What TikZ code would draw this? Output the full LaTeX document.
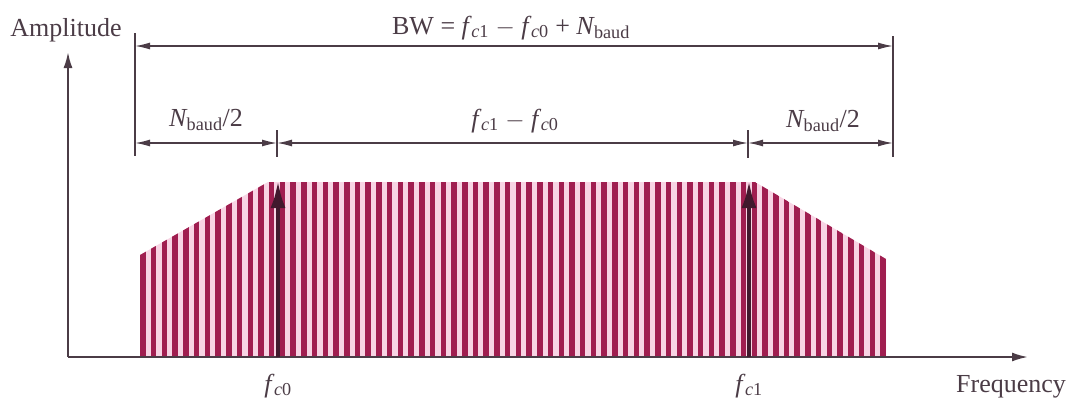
\documentclass[tikz,border=0pt]{standalone}
\usepackage{fontspec}
\setmainfont{Liberation Serif}
\usepackage{tikz}
\usetikzlibrary{arrows.meta}
\definecolor{inkgray}{RGB}{75,60,70}
\definecolor{barred}{RGB}{160,30,80}
\definecolor{barpink}{RGB}{248,212,228}
\definecolor{carrier}{RGB}{65,25,45}
\newcommand{\fc}[1]{\textit{f}\kern-0.5pt\textsubscript{\textit{c}#1}}
\newcommand{\Nb}{\textit{N}\kern-1pt\textsubscript{baud}}

\begin{document}
\begin{tikzpicture}[
  x=1pt, y=-1pt,
  every node/.style={font=\fontsize{26}{30}\selectfont, text=inkgray, inner sep=0pt},
  axis/.style={draw=inkgray, line width=2pt, -{Latex[length=16pt,width=9pt]}},
  dimline/.style={draw=inkgray, line width=1.4pt, {Latex[length=15pt,width=7pt]}-{Latex[length=15pt,width=7pt]}},
  extline/.style={draw=inkgray, line width=1.4pt},
  carrierarrow/.style={draw=carrier, line width=4.5pt, -{Latex[length=28pt,width=15pt]}},
  bar/.style={draw=barred, line width=5.5pt}
]
\useasboundingbox (0,0) rectangle (1083,399);

% spectrum bars
\begin{scope}
  \clip (140,357) -- (140,255) -- (268,182) -- (755,182) -- (886,259) -- (886,357) -- cycle;
  \fill[barpink] (130,150) rectangle (900,360);
  \foreach \i in {0,...,69}
    \draw[bar] (143+\i*10.725,360) -- (143+\i*10.725,150);
\end{scope}

% axes
\coordinate (origin) at (68,357);
\coordinate (ytop) at (68,52);
\coordinate (xend) at (1028,357);
\draw[axis] (origin) -- (ytop);
\draw[axis] (origin) -- (xend);
\node[anchor=base] (amp) at (66,36) {Amplitude};
\node[anchor=base] (freq) at (1011,392) {Frequency};

% carriers
\coordinate (fc0base) at (278,357);
\coordinate (fc0top) at (278,180);
\coordinate (fc1base) at (749,357);
\coordinate (fc1top) at (749,180);
\draw[carrierarrow] (fc0base) -- (fc0top);
\draw[carrierarrow] (fc1base) -- (fc1top);
\node[anchor=base] (fc0lbl) at (278,392) {\fc{0}};
\node[anchor=base] (fc1lbl) at (749,392) {\fc{1}};

% dimension lines
\coordinate (bwL) at (135,46);
\coordinate (bwR) at (893,46);
\coordinate (dA) at (135,143);
\coordinate (dB) at (277,143);
\coordinate (dC) at (748,143);
\coordinate (dD) at (893,143);
\draw[extline] (135,33) -- (135,156);
\draw[extline] (893,36) -- (893,157);
\draw[extline] (277,130) -- (277,157);
\draw[extline] (748,130) -- (748,158);
\draw[dimline] (bwL) -- (bwR);
\draw[dimline] (dA) -- (dB);
\draw[dimline] (dB) -- (dC);
\draw[dimline] (dC) -- (dD);
\node[anchor=base] (bwlbl) at (511,34) {BW = \fc{1} $-$ \fc{0} + \Nb};
\node[anchor=base] (leftlbl) at (206,126) {\Nb/2};
\node[anchor=base] (midlbl) at (515,127) {\fc{1} $-$ \fc{0}};
\node[anchor=base] (rightlbl) at (823,127) {\Nb/2};
\end{tikzpicture}
\end{document}
